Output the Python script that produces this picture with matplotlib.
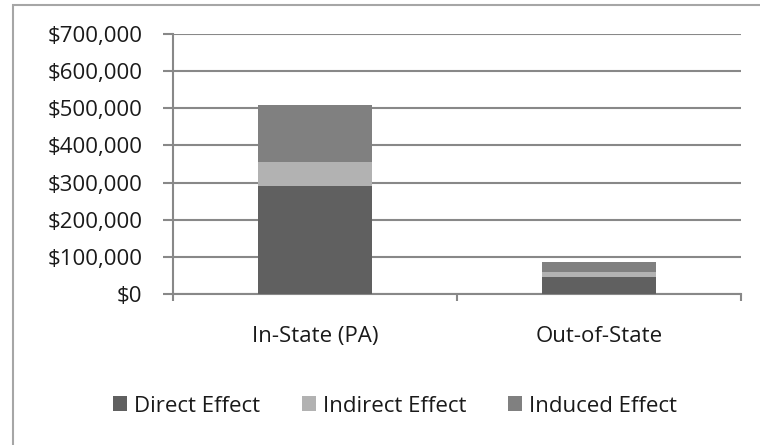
import matplotlib.pyplot as plt
from matplotlib.patches import Rectangle
from matplotlib.ticker import FuncFormatter

CATEGORIES = ["In-State (PA)", "Out-of-State"]
DIRECT = [290000, 47000]
INDIRECT = [65000, 13000]
INDUCED = [155000, 25000]
SERIES_NAMES = ["Direct Effect", "Indirect Effect", "Induced Effect"]
COLORS = ["#606060", "#b2b2b2", "#808080"]
Y_TICKS = list(range(0, 700001, 100000))

plt.rcParams["font.family"] = ["Open Sans", "DejaVu Sans"]
plt.rcParams["text.color"] = "#1a1a1a"
FS = 16

fig = plt.figure(figsize=(7.6, 4.45), dpi=100)
ax = fig.add_axes([173 / 760, 1 - 294 / 445, 568 / 760, 260 / 445])

x = range(len(CATEGORIES))
bottom = [0] * len(CATEGORIES)
for name, vals, color in zip(SERIES_NAMES, [DIRECT, INDIRECT, INDUCED], COLORS):
    ax.bar(x, vals, width=0.4, bottom=bottom, color=color, label=name, zorder=3)
    bottom = [b + v for b, v in zip(bottom, vals)]

ax.set_xlim(-0.5, 1.5)
ax.set_ylim(0, 700000)
ax.set_yticks(Y_TICKS)
ax.yaxis.set_major_formatter(FuncFormatter(lambda v, _: f"${v:,.0f}"))
ax.set_xticks([-0.5, 0.5, 1.5], minor=False)
ax.set_xticklabels([])
ax.set_xticks(list(x), minor=True)
ax.set_xticklabels(CATEGORIES, minor=True)
ax.tick_params(axis="x", which="major", length=5, width=1.5, color="#888888")
ax.tick_params(axis="x", which="minor", length=0, pad=23, labelsize=FS,
               labelcolor="#1a1a1a")
ax.tick_params(axis="y", length=7, width=1.5, color="#888888", labelsize=FS, pad=15,
               labelcolor="#1a1a1a")

ax.grid(axis="y", color="#888888", linewidth=1.5, zorder=0)
for side in ["top", "right"]:
    ax.spines[side].set_visible(False)
for side in ["left", "bottom"]:
    ax.spines[side].set_color("#888888")
    ax.spines[side].set_linewidth(1.5)

fig.legend(
    loc="center",
    bbox_to_anchor=(395 / 760, 1 - 406 / 445),
    ncol=3,
    frameon=False,
    fontsize=FS,
    handlelength=0.63,
    handleheight=0.63,
    handletextpad=0.3,
    columnspacing=1.9,
)

fig.patches.append(
    Rectangle((13 / 760, -0.1), 1.2, 1 - 5 / 445 + 0.1, transform=fig.transFigure,
              fill=False, edgecolor="#a6a6a6", linewidth=1.5)
)

fig.savefig("out.png", dpi=100)
